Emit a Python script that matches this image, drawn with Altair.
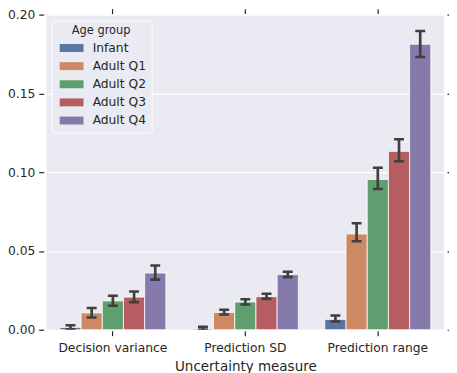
import altair as alt
import pandas as pd

measures = ["Decision variance", "Prediction SD", "Prediction range"]
groups = ["Infant", "Adult Q1", "Adult Q2", "Adult Q3", "Adult Q4"]
colors = ["#5975a4", "#cc8963", "#5f9e6e", "#b55d60", "#857aab"]

mean_dv = [0.0015, 0.0107, 0.0183, 0.0207, 0.0360]
lo_dv = [0.0003, 0.0078, 0.0152, 0.0175, 0.0318]
hi_dv = [0.0028, 0.0138, 0.0216, 0.0243, 0.0408]

mean_sd = [0.0007, 0.0110, 0.0176, 0.0210, 0.0350]
lo_sd = [0.0000, 0.0097, 0.0160, 0.0196, 0.0334]
hi_sd = [0.0018, 0.0127, 0.0194, 0.0228, 0.0368]

mean_pr = [0.0066, 0.0608, 0.0954, 0.1132, 0.1812]
lo_pr = [0.0052, 0.0562, 0.0893, 0.1069, 0.1731]
hi_pr = [0.0090, 0.0676, 0.1028, 0.1209, 0.1896]

y_ticks = [0.0, 0.05, 0.10, 0.15, 0.20]

rows = []
for m, means, los, his in [
    (measures[0], mean_dv, lo_dv, hi_dv),
    (measures[1], mean_sd, lo_sd, hi_sd),
    (measures[2], mean_pr, lo_pr, hi_pr),
]:
    for g, mu, lo, hi in zip(groups, means, los, his):
        rows.append({"measure": m, "group": g, "mean": mu, "lo": lo, "hi": hi})
df = pd.DataFrame(rows)

FONT = "DejaVu Sans"
TXT = "#262626"
ERR = "#3f3f3f"

xscale = alt.Scale(domain=measures, paddingInner=0.2, paddingOuter=0.1)
yscale = alt.Scale(domain=[0, 0.2], nice=False, zero=True)
xo = alt.XOffset("group:N", sort=groups, scale=alt.Scale(domain=groups, paddingInner=0, paddingOuter=0))

bottom_axis = alt.Axis(
    orient="bottom", title="Uncertainty measure", labelAngle=0, domain=False,
    grid=False, ticks=True, tickSize=5, tickColor=TXT, tickWidth=1.2, offset=1,
    labelFontSize=12.4, labelColor=TXT, labelFont=FONT, labelPadding=6,
    titleFontSize=13.6, titleColor=TXT, titleFont=FONT, titleFontWeight="normal",
    titlePadding=6,
)
top_axis = alt.Axis(
    orient="top", title=None, labels=False, domain=False, grid=False,
    ticks=True, tickSize=5, tickColor=TXT, tickWidth=1.2, offset=1,
)
left_axis = alt.Axis(
    orient="left", title=None, values=y_ticks, format=".2f", domain=False,
    grid=False, ticks=True, tickSize=5, tickColor=TXT, tickWidth=1.2, offset=3,
    labelFontSize=12.4, labelColor=TXT, labelFont=FONT, labelPadding=4,
)
right_axis = alt.Axis(
    orient="right", title=None, values=y_ticks, labels=False, domain=False,
    grid=False, ticks=True, tickSize=5, tickColor=TXT, tickWidth=1.2, offset=3,
)
grid_axis = alt.Axis(
    orient="left", title=None, values=y_ticks, labels=False, domain=False,
    ticks=False, grid=True, gridColor="white", gridWidth=1.2, gridOpacity=1,
)

bars = alt.Chart(df).mark_bar(stroke="white", strokeWidth=0.8).encode(
    x=alt.X("measure:N", sort=measures, scale=xscale, axis=bottom_axis),
    xOffset=xo,
    y=alt.Y("mean:Q", scale=yscale, axis=left_axis),
    color=alt.Color(
        "group:N", sort=groups,
        scale=alt.Scale(domain=groups, range=colors),
        legend=alt.Legend(
            title="\u00a0\u00a0\u00a0\u00a0Age group", orient="none", legendX=5, legendY=6,
            padding=5, fillColor="#eaeaf2", strokeColor="white",
            cornerRadius=3, titleFontSize=11.5, titleFont=FONT, titleColor=TXT,
            titleFontWeight="normal", titleAnchor="middle", titleAlign="center",
            titlePadding=5,
            labelFontSize=12.4, labelFont=FONT, labelColor=TXT,
            symbolType="M-0.75,-1H5.25V1H-0.75Z", symbolSize=64,
            symbolStrokeWidth=0, symbolOpacity=1, symbolOffset=0,
            labelOffset=24, rowPadding=5.3,
        ),
    ),
)

grid_layer = alt.Chart(df).mark_bar(opacity=0).encode(
    x=alt.X("measure:N", sort=measures, scale=xscale, axis=None),
    xOffset=xo,
    y=alt.Y("mean:Q", scale=yscale, axis=grid_axis),
)

err = alt.Chart(df).mark_rule(color=ERR, strokeWidth=2.7, clip=True).encode(
    x=alt.X("measure:N", sort=measures, scale=xscale, axis=top_axis),
    xOffset=xo,
    y=alt.Y("lo:Q", scale=yscale, axis=right_axis),
    y2="hi:Q",
)

caps = alt.Chart(df).transform_fold(["lo", "hi"], as_=["end", "val"]).mark_tick(
    color=ERR, size=10, thickness=2.6, orient="horizontal", opacity=1, clip=True
).encode(
    x=alt.X("measure:N", sort=measures, scale=xscale, axis=None),
    xOffset=xo,
    y=alt.Y("val:Q", scale=yscale, axis=None),
)

chart = alt.layer(grid_layer, bars, err, caps).resolve_axis(
    x="independent", y="independent"
).properties(
    width=401, height=318,
    autosize=alt.AutoSizeParams(type="none"),
    padding={"left": 39, "top": 5, "right": 5, "bottom": 42},
    background="white",
).configure_view(
    fill="#eaeaf2", stroke=None
)

chart.save("out.html", embed_options={"renderer": "svg", "actions": False})
